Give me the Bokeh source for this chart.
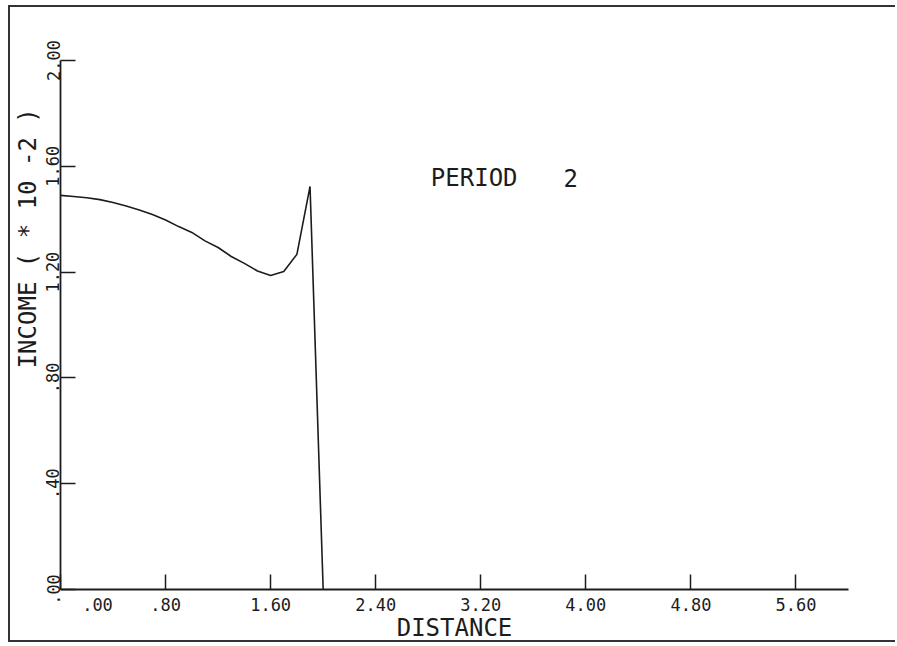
from bokeh.plotting import figure
from bokeh.models import Range1d, FixedTicker, Label
from bokeh.embed import file_html
from bokeh.resources import INLINE

# ---- data ----
distance = [0.0, 0.1, 0.2, 0.3, 0.4, 0.5, 0.6, 0.7, 0.8, 0.9, 1.0,
            1.1, 1.2, 1.3, 1.4, 1.5, 1.6, 1.7, 1.8, 1.9, 2.0]
income = [1.490, 1.486, 1.481, 1.474, 1.463, 1.450, 1.435, 1.418, 1.397, 1.372, 1.350,
          1.318, 1.293, 1.259, 1.233, 1.204, 1.187, 1.202, 1.267, 1.524, 0.0]

x_ticks = [0.0, 0.8, 1.6, 2.4, 3.2, 4.0, 4.8, 5.6]
x_tick_labels = [".00", ".80", "1.60", "2.40", "3.20", "4.00", "4.80", "5.60"]
y_ticks = [0.0, 0.4, 0.8, 1.2, 1.6, 2.0]
y_tick_labels = [".00", ".40", ".80", "1.20", "1.60", "2.00"]

x_title = "DISTANCE"
y_title = "INCOME ( * 10  -2 )"
annot_word = "PERIOD"
annot_num = "2"

FONT = "DejaVu Sans Mono"
INK = "#1c1c1c"
NBSP = "\u00a0"

p = figure(width=887, height=637, output_backend="svg", toolbar_location=None,
           x_range=Range1d(0, 6.0), y_range=Range1d(0, 2.0),
           min_border_left=50, min_border_right=49, min_border_top=53, min_border_bottom=55)

p.border_fill_color = None
p.background_fill_color = "white"
p.outline_line_color = None
p.grid.visible = False
p.styles = {"border-left": "2px solid #333333",
            "border-top": "2px solid #333333",
            "border-bottom": "2px solid #333333",
            "margin-left": "8px", "margin-top": "5px"}

p.line(distance, income, line_color=INK, line_width=1.6)

# x axis (the ".00" label is pushed right of the origin, as on the original plot)
xa = p.xaxis[0]
xa.ticker = FixedTicker(ticks=x_ticks)
overrides = {t: l for t, l in zip(x_ticks, x_tick_labels)}
overrides[x_ticks[0]] = NBSP * 7 + x_tick_labels[0]
xa.major_label_overrides = overrides
xa.axis_label = x_title

# y axis (title sits high on the axis in the original)
ya = p.yaxis[0]
ya.ticker = FixedTicker(ticks=y_ticks)
ya.major_label_overrides = {t: l for t, l in zip(y_ticks, y_tick_labels)}
ya.axis_label = NBSP * 13 + y_title
ya.major_label_orientation = "vertical"

for ax in (xa, ya):
    ax.axis_line_color = INK
    ax.axis_line_width = 1.8
    ax.major_tick_line_color = INK
    ax.major_tick_line_width = 1.5
    ax.major_tick_in = 15
    ax.major_tick_out = 0
    ax.minor_tick_line_color = None
    ax.major_label_text_font = FONT
    ax.major_label_text_font_size = "17px"
    ax.major_label_text_color = INK
    ax.axis_label_text_font = FONT
    ax.axis_label_text_font_size = "24px"
    ax.axis_label_text_font_style = "normal"
    ax.axis_label_text_color = INK

xa.major_label_standoff = 5
xa.axis_label_standoff = -4
ya.major_label_standoff = 1
ya.axis_label_standoff = 2

# annotation
p.add_layout(Label(x=2.82, y=1.557, text=annot_word, text_font=FONT,
                   text_font_size="24px", text_color=INK,
                   text_align="left", text_baseline="middle"))
p.add_layout(Label(x=3.83, y=1.557, text=annot_num, text_font=FONT,
                   text_font_size="24px", text_color=INK,
                   text_align="left", text_baseline="middle"))

open("out.html", "w").write(file_html(p, INLINE))
